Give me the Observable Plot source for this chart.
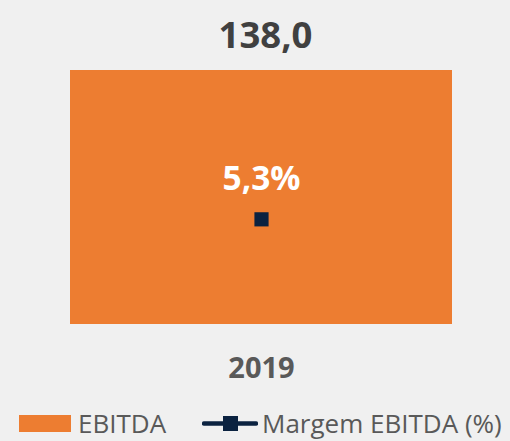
<!DOCTYPE html>
<html>
<head>
<meta charset="utf-8">
<script src="https://cdn.jsdelivr.net/npm/d3@7"></script>
<script src="https://cdn.jsdelivr.net/npm/@observablehq/plot@0.6"></script>
<style>
  html, body { margin: 0; padding: 0; background: #f0f0f0; width: 510px; height: 441px; overflow: hidden; }
  #chart svg { display: block; }
  #legend { position: relative; height: 41px; font-family: "Open Sans", sans-serif; font-size: 26px; line-height: 26px; color: #595959; white-space: nowrap; }
  #legend .item { position: absolute; top: 10px; display: flex; align-items: center; height: 26px; }
  #legend svg { display: block; }
</style>
</head>
<body>
<div id="chart"></div>
<div id="legend"></div>
<script>
const years = ["2019"];
const ebitda = [138.0];
const margem = [5.3];
const ebitdaLabels = ["138,0"];
const margemLabels = ["5,3%"];
const seriesNames = ["EBITDA", "Margem EBITDA (%)"];
const colors = { ebitda: "#ED7D31", margem: "#0B2240" };

const ebitdaAxisMax = 138;
const margemAxisMax = 12.8;

const data = years.map((y, i) => ({
  year: y,
  ebitda: ebitda[i],
  margem: margem[i],
  ebitdaLabel: ebitdaLabels[i],
  margemLabel: margemLabels[i]
}));

const font = "Open Sans, sans-serif";
const toPrimary = d => d.margem / margemAxisMax * ebitdaAxisMax;

const chart = Plot.plot({
  width: 510,
  height: 400,
  marginLeft: 70,
  marginRight: 58,
  marginTop: 70,
  marginBottom: 76,
  style: { background: "#f0f0f0", fontFamily: font, overflow: "visible" },
  x: { domain: years, padding: 0, axis: null },
  y: { domain: [0, ebitdaAxisMax], axis: null },
  marks: [
    Plot.barY(data, { x: "year", y: "ebitda", fill: colors.ebitda }),
    Plot.axisX({ tickSize: 0, tickPadding: 33, fontSize: 29, fontWeight: "bold", color: "#595959", fill: "#595959", label: null }),
    Plot.text(data, { x: "year", y: "ebitda", text: "ebitdaLabel", lineAnchor: "middle", dx: 4, dy: -34, fontSize: 36.5, fontWeight: "bold", fill: "#404040" }),
    Plot.dot(data, { x: "year", y: toPrimary, symbol: "square", r: 8, fill: colors.margem, stroke: "none" }),
    Plot.text(data, { x: "year", y: toPrimary, text: "margemLabel", lineAnchor: "middle", dy: -40, fontSize: 33.5, fontWeight: "bold", fill: "#ffffff" })
  ]
});
document.getElementById("chart").appendChild(chart);

// Legend
const legend = document.getElementById("legend");
const item1 = document.createElement("div");
item1.className = "item";
item1.style.left = "19px";
item1.innerHTML = `<svg width="52" height="17"><rect width="52" height="17" fill="${colors.ebitda}"/></svg><span style="margin-left:7px">${seriesNames[0]}</span>`;
legend.appendChild(item1);
const item2 = document.createElement("div");
item2.className = "item";
item2.style.left = "202px";
item2.innerHTML = `<svg width="56" height="17"><line x1="2" x2="54" y1="8.5" y2="8.5" stroke="${colors.margem}" stroke-width="4.5" stroke-linecap="round"/><rect x="21" y="1" width="15" height="15" fill="${colors.margem}"/></svg><span style="margin-left:4px">${seriesNames[1]}</span>`;
legend.appendChild(item2);
</script>
</body>
</html>
